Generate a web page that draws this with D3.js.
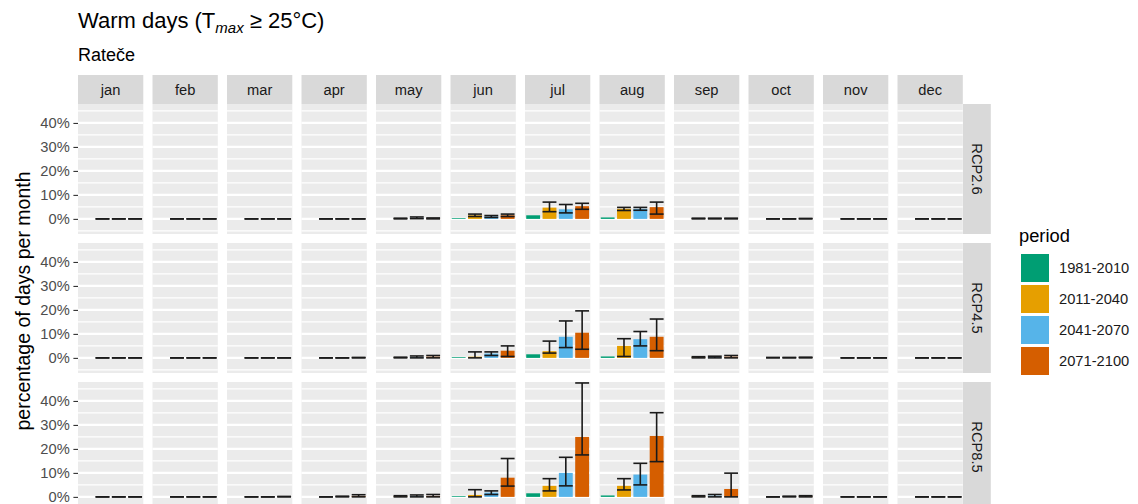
<!DOCTYPE html>
<html><head><meta charset="utf-8">
<script src="https://cdn.jsdelivr.net/npm/d3@7"></script>
<style>body{margin:0;background:#fff} svg{display:block} text{font-family:"Liberation Sans",Arial,sans-serif}</style>
</head><body><script>
const months = ["jan","feb","mar","apr","may","jun","jul","aug","sep","oct","nov","dec"];
const scenarios = ["RCP2.6","RCP4.5","RCP8.5"];
const periods = ["1981-2010","2011-2040","2041-2070","2071-2100"];
const palette = ["#009E73","#E69F00","#56B4E9","#D55E00"];
const yTicks = [0,10,20,30,40];
const yMinor = [-5,5,15,25,35,45];

// mean % per month: [1981-2010, 2011-2040, 2041-2070, 2071-2100]
const rcp26Mean = [[0,0,0,0],[0,0,0,0],[0,0,0,0],[0,0,0,0],[0,0.1,0.4,0.2],[0.3,1.5,1.0,1.5],
  [1.5,4.7,4.0,5.3],[0.6,4.2,4.2,4.9],[0,0.1,0.1,0.1],[0,0,0,0.05],[0,0,0,0],[0,0,0,0]];
const rcp26Low  = [[0,0,0],[0,0,0],[0,0,0],[0,0,0],[0,0.1,0],[1.0,0.6,1.0],
  [3.0,2.5,4.0],[3.5,3.6,2.0],[0,0,0],[0,0,0],[0,0,0],[0,0,0]];
const rcp26High = [[0,0,0],[0,0,0],[0,0,0],[0,0,0],[0.3,0.8,0.4],[2.0,1.4,2.0],
  [7.0,6.0,6.5],[4.8,4.8,7.0],[0.3,0.3,0.3],[0,0,0.2],[0,0,0],[0,0,0]];

const rcp45Mean = [[0,0,0,0],[0,0,0,0],[0,0,0,0],[0,0,0,0.05],[0,0.1,0.3,0.5],[0.3,0.5,1.8,3.0],
  [1.5,2.8,8.8,10.5],[0.6,5.0,7.8,8.8],[0,0.2,0.3,0.5],[0,0.05,0.05,0.1],[0,0,0,0],[0,0,0,0]];
const rcp45Low  = [[0,0,0],[0,0,0],[0,0,0],[0,0,0],[0,0,0],[0,1.0,0.6],
  [2.0,4.3,3.6],[0.6,5.0,3.0],[0,0,0],[0,0,0],[0,0,0],[0,0,0]];
const rcp45High = [[0,0,0],[0,0,0],[0,0,0],[0,0,0.2],[0.3,0.8,1.0],[2.5,2.5,5.0],
  [7.0,15.4,19.6],[8.0,11.0,16.2],[0.5,0.7,1.0],[0.2,0.2,0.3],[0,0,0],[0,0,0]];

const rcp85Mean = [[0,0,0,0],[0,0,0,0],[0,0,0,0.05],[0,0,0.1,0.4],[0,0.2,0.3,0.4],[0.3,0.8,1.8,8.0],
  [1.5,4.6,10.0,25.0],[0.6,4.6,9.3,25.4],[0,0.2,0.5,3.3],[0,0,0.1,0.2],[0,0,0,0],[0,0,0,0]];
const rcp85Low  = [[0,0,0],[0,0,0],[0,0,0],[0,0,0],[0,0,0],[0,1.0,4.5],
  [2.5,4.6,17.5],[2.9,5.0,14.7],[0,0,0],[0,0,0],[0,0,0],[0,0,0]];
const rcp85High = [[0,0,0],[0,0,0],[0,0,0.2],[0,0.3,0.9],[0.5,0.8,1.0],[3.0,2.5,16.0],
  [7.6,16.5,47.5],[7.6,14.0,35.1],[0.5,1.0,9.9],[0,0.3,0.5],[0,0,0],[0,0,0]];

const means = [rcp26Mean, rcp45Mean, rcp85Mean];
const lows = [rcp26Low, rcp45Low, rcp85Low];
const highs = [rcp26High, rcp45High, rcp85High];

// layout
const W = 1138, H = 504;
const panelLeft = 78, panelW = 65.3, gapX = 9.2;
const stripTop = 75, stripH = 29;
const rowTops = [104, 243, 382], panelH = 130;
const rightStripX = panelLeft + 12*panelW + 11*gapX, rightStripW = 28;

const svg = d3.select("body").append("svg").attr("width", W).attr("height", H);
svg.append("rect").attr("width", W).attr("height", H).attr("fill", "#fff");

// title
const title = svg.append("text").attr("x", 78).attr("y", 28).attr("font-size", 22).attr("fill", "#000");
title.append("tspan").text("Warm days (T");
title.append("tspan").attr("font-size", 15).attr("font-style", "italic").attr("dy", 5).text("max");
title.append("tspan").attr("dy", -5).text(" \u2265 25\u00B0C)");
svg.append("text").attr("x", 78).attr("y", 60.5).attr("font-size", 18).attr("fill", "#000").text("Rate\u010De");

const x = d3.scaleBand().domain(periods).range([0, panelW]).paddingInner(0.15).paddingOuter(0.075);
const y = d3.scaleLinear().domain([-6.3, 47.9]).range([panelH, 0]);
const color = d3.scaleOrdinal().domain(periods).range(palette);

// top strips
months.forEach((m, c) => {
  const gx = panelLeft + c*(panelW+gapX);
  svg.append("rect").attr("x", gx).attr("y", stripTop).attr("width", panelW).attr("height", stripH).attr("fill", "#D9D9D9");
  svg.append("text").attr("x", gx + panelW/2).attr("y", stripTop + stripH/2 + 5).attr("text-anchor", "middle")
    .attr("font-size", 14.7).attr("fill", "#1A1A1A").text(m);
});

scenarios.forEach((s, r) => {
  const top = rowTops[r];
  // right strip
  svg.append("rect").attr("x", rightStripX).attr("y", top).attr("width", rightStripW).attr("height", panelH).attr("fill", "#D9D9D9");
  svg.append("text").attr("transform", `translate(${rightStripX + rightStripW/2 - 5},${top + panelH/2}) rotate(90)`)
    .attr("text-anchor", "middle").attr("font-size", 14.7).attr("fill", "#1A1A1A").text(s);

  months.forEach((m, c) => {
    const g = svg.append("g").attr("transform", `translate(${panelLeft + c*(panelW+gapX)},${top})`);
    g.append("rect").attr("width", panelW).attr("height", panelH).attr("fill", "#EBEBEB");
    g.selectAll(".mn").data(yMinor).join("line").attr("x1", 0).attr("x2", panelW)
      .attr("y1", d => y(d)).attr("y2", d => y(d)).attr("stroke", "#fff").attr("stroke-width", 1.2);
    g.selectAll(".mj").data(yTicks).join("line").attr("x1", 0).attr("x2", panelW)
      .attr("y1", d => y(d)).attr("y2", d => y(d)).attr("stroke", "#fff").attr("stroke-width", 2.3);
    const vals = periods.map((p, i) => ({p, i, v: means[r][c][i],
      lo: i > 0 ? lows[r][c][i-1] : null, hi: i > 0 ? highs[r][c][i-1] : null}));
    g.selectAll(".bar").data(vals).join("rect")
      .attr("x", d => x(d.p)).attr("width", x.bandwidth())
      .attr("y", d => y(d.v)).attr("height", d => y(0) - y(d.v))
      .attr("fill", d => color(d.p));
    const eb = vals.filter(d => d.lo !== null);
    const bw = x.bandwidth();
    eb.forEach(d => {
      const cx = x(d.p) + bw/2;
      g.append("line").attr("x1", cx).attr("x2", cx).attr("y1", y(d.lo)).attr("y2", y(d.hi))
        .attr("stroke", "#1a1a1a").attr("stroke-width", 1.6);
      [d.lo, d.hi].forEach(v => g.append("line").attr("x1", x(d.p)).attr("x2", x(d.p) + bw)
        .attr("y1", y(v)).attr("y2", y(v)).attr("stroke", "#1a1a1a").attr("stroke-width", 1.6));
    });
  });

  // y axis
  const ax = svg.append("g").attr("transform", `translate(${panelLeft},${top})`)
    .call(d3.axisLeft(y).tickValues(yTicks).tickFormat(d => d + "%").tickSize(4.6).tickPadding(3.7));
  ax.select(".domain").remove();
  ax.selectAll(".tick line").attr("stroke", "#333").attr("stroke-width", 1.1);
  ax.selectAll(".tick text").attr("fill", "#4D4D4D").attr("font-size", 14.7).attr("font-family", "Liberation Sans, Arial, sans-serif");
});

// y-axis title
svg.append("text").attr("transform", "translate(30,301) rotate(-90)").attr("text-anchor", "middle")
  .attr("font-size", 19.5).attr("fill", "#000").text("percentage of days per month");

// legend
svg.append("text").attr("x", 1019).attr("y", 242).attr("font-size", 18.3).attr("fill", "#000").text("period");
periods.forEach((p, i) => {
  const ky = 254 + i*31;
  svg.append("rect").attr("x", 1021).attr("y", ky).attr("width", 28).attr("height", 28).attr("fill", color(p));
  svg.append("text").attr("x", 1059).attr("y", ky + 14 + 5).attr("font-size", 14.7).attr("fill", "#1A1A1A").text(p);
});
</script></body></html>
